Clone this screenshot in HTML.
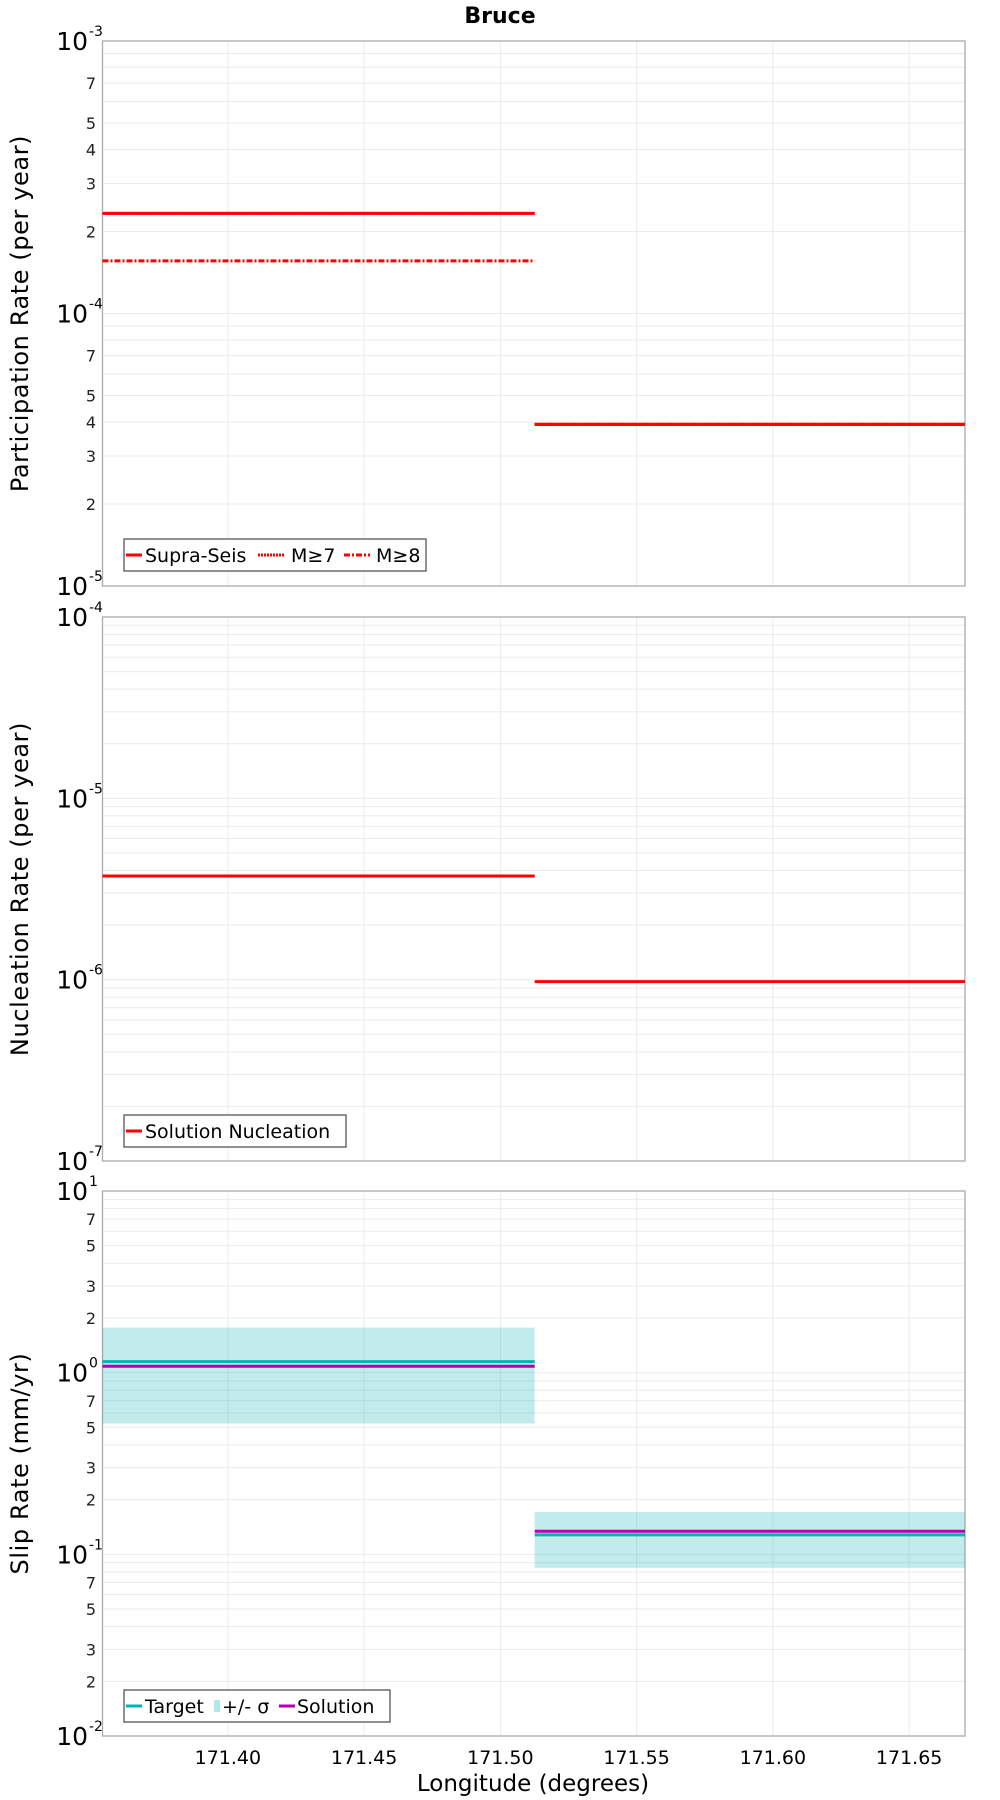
<!DOCTYPE html>
<html><head><meta charset="utf-8"><style>
html,body{margin:0;padding:0;background:#fff;}
svg{display:block;font-family:"DejaVu Sans","Liberation Sans",sans-serif;}
</style></head><body>
<svg id="chart" width="1000" height="1800" viewBox="0 0 1000 1800" xmlns="http://www.w3.org/2000/svg">
<text x="500" y="23" text-anchor="middle" font-size="22" font-weight="bold">Bruce</text>
<text x="533" y="1791" text-anchor="middle" font-size="23">Longitude (degrees)</text>
</svg>
<script>
// ---- data ----
const xTicks = [171.40, 171.45, 171.50, 171.55, 171.60, 171.65];
const xTickLabels = ["171.40", "171.45", "171.50", "171.55", "171.60", "171.65"];
const segStart = [171.354, 171.5126];
const segEnd = [171.5126, 171.6705];
const supraSeis = [2.33e-4, 3.92e-5];
const m7 = [2.33e-4, 3.92e-5];
const m8 = [1.56e-4, 3.92e-5];
const nucleation = [3.73e-6, 9.75e-7];
const slipTarget = [1.15, 0.128];
const slipSolution = [1.085, 0.134];
const slipUpper = [1.77, 0.171];
const slipLower = [0.525, 0.0842];

const X0 = 171.354, X1 = 171.6705, PL = 102.5, PR = 965;
const svg = document.getElementById('chart');
const NS = 'http://www.w3.org/2000/svg';
function mk(tag, attrs, parent) {
  const e = document.createElementNS(NS, tag);
  for (const k in attrs) e.setAttribute(k, attrs[k]);
  (parent || svg).appendChild(e);
  return e;
}
function xs(v) { return PL + (v - X0) / (X1 - X0) * (PR - PL); }

function panel(name, top, bottom, dmin, dmax, minorLabels, title) {
  const g = mk('g', {});
  
  
  const ys = v => bottom - (Math.log10(v) - dmin) / (dmax - dmin) * (bottom - top);
  for (let d = dmin; d < dmax; d++) {
    for (let m = 1; m <= 9; m++) {
      const v = m * Math.pow(10, d);
      if (m === 1 && d === dmin) continue;
      const y = ys(v);
      const l = mk('line', { x1: PL, x2: PR, y1: y, y2: y, stroke: '#ebebeb', 'stroke-width': 1 }, g);
      
      
      if (m !== 1 && minorLabels.indexOf(m) >= 0) {
        const t = mk('text', { x: 96, y: y + 6, 'text-anchor': 'end', 'font-size': 16, fill: '#222' }, g);
        
        
        t.textContent = String(m);
      }
    }
  }
  for (let d = dmin; d <= dmax; d++) {
    const y = ys(Math.pow(10, d));
    const t = mk('text', { x: 88, y: y + 9, 'text-anchor': 'end', 'font-size': 25, fill: '#000' }, g);
    
    
    t.textContent = '10';
    const s = mk('text', { x: 89, y: y - 5, 'text-anchor': 'start', 'font-size': 14, fill: '#000' }, g);
    
    
    s.textContent = String(d);
  }
  xTicks.forEach(v => {
    const l = mk('line', { x1: xs(v), x2: xs(v), y1: top, y2: bottom, stroke: '#ebebeb', 'stroke-width': 1 }, g);
    
    
  });
  const r = mk('rect', { x: PL, y: top, width: PR - PL, height: bottom - top, fill: 'none', stroke: '#aaa', 'stroke-width': 1.3 }, g);
  
  
  const cy = (top + bottom) / 2;
  const at = mk('text', { x: 0, y: 0, 'text-anchor': 'middle', 'font-size': 24, 'letter-spacing': 0.6, transform: 'translate(28,' + cy + ') rotate(-90)' }, g);
  
  
  at.textContent = title;
  return { g, ys };
}

function seg(g, ys, arr, i, color, w, dash, nm) {
  const y = ys(arr[i]);
  const a = { x1: xs(segStart[i]), x2: xs(segEnd[i]), y1: y, y2: y, stroke: color, 'stroke-width': w };
  if (dash) a['stroke-dasharray'] = dash;
  const l = mk('line', a, g);
  
  
}

function legend(g, x, y, w, items) {
  const r = mk('rect', { x: x, y: y, width: w, height: 32, fill: '#fff', stroke: '#555', 'stroke-width': 1.3 }, g);
  
  
  items.forEach(it => {
    if (it.box) {
      const b = mk('rect', { x: it.x, y: y + 10, width: 6, height: 12, fill: it.color }, g);
      
      
    } else {
      const a = { x1: it.x, x2: it.x + it.len, y1: y + 16, y2: y + 16, stroke: it.color, 'stroke-width': 3 };
      if (it.dash) a['stroke-dasharray'] = it.dash;
      const l = mk('line', a, g);
      
      
    }
    const t = mk('text', { x: it.tx, y: y + 23, 'font-size': 19, fill: '#000' }, g);
    
    
    t.textContent = it.label;
  });
}

const p1 = panel('participation', 41, 586, -5, -3, [2, 3, 4, 5, 7], 'Participation Rate (per year)');
for (let i = 0; i < 2; i++) {
  seg(p1.g, p1.ys, m7, i, '#ff0000', 3, '2,1', 'm7-line');
  seg(p1.g, p1.ys, m8, i, '#ff0000', 3, '6,2,2,2', 'm8-line');
  seg(p1.g, p1.ys, supraSeis, i, '#ff0000', 3, null, 'supra-seis-line');
}
legend(p1.g, 124, 539, 302, [
  { x: 126, len: 16, color: '#f00', tx: 145, label: 'Supra-Seis' },
  { x: 258, len: 26, color: '#f00', dash: '2,1', tx: 291, label: 'M≥7' },
  { x: 344, len: 26, color: '#f00', dash: '6,2,2,2', tx: 376, label: 'M≥8' }
]);

const p2 = panel('nucleation', 617, 1161, -7, -4, [], 'Nucleation Rate (per year)');
for (let i = 0; i < 2; i++) seg(p2.g, p2.ys, nucleation, i, '#ff0000', 3, null, 'nucleation-line');
legend(p2.g, 124, 1115, 222, [
  { x: 126, len: 16, color: '#f00', tx: 145, label: 'Solution Nucleation' }
]);

const p3 = panel('slip-rate', 1191, 1736, -2, 1, [2, 3, 5, 7], 'Slip Rate (mm/yr)');
for (let i = 0; i < 2; i++) {
  const yt = p3.ys(slipUpper[i]), yb = p3.ys(slipLower[i]);
  const b = mk('rect', { x: xs(segStart[i]), y: yt, width: xs(segEnd[i]) - xs(segStart[i]), height: yb - yt, fill: 'rgba(0,175,175,0.24)' }, p3.g);
  
  
}
for (let i = 0; i < 2; i++) {
  seg(p3.g, p3.ys, slipTarget, i, '#00b4b4', 3, null, 'target-line');
  seg(p3.g, p3.ys, slipSolution, i, '#b400b4', 3, null, 'solution-line');
}
legend(p3.g, 124, 1690, 266, [
  { x: 126, len: 16, color: '#00b4b4', tx: 145, label: 'Target' },
  { box: true, x: 214, color: 'rgba(0,175,175,0.3)', tx: 222, label: '+/- σ' },
  { x: 279, len: 16, color: '#b400b4', tx: 297, label: 'Solution' }
]);

xTicks.forEach((v, i) => {
  const t = mk('text', { x: xs(v), y: 1764, 'text-anchor': 'middle', 'font-size': 19, fill: '#000' });
  
  
  t.textContent = xTickLabels[i];
});
</script>
</body></html>
